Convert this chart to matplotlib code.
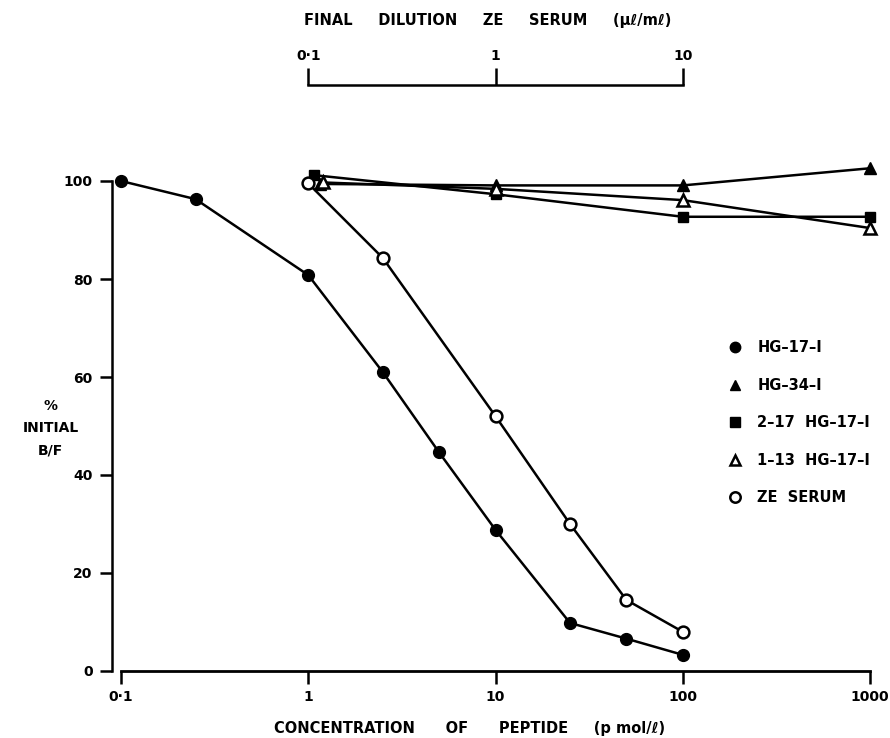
import matplotlib
matplotlib.use("Agg")
import matplotlib.pyplot as plt
from matplotlib.ticker import FixedLocator, FixedFormatter, NullLocator

plt.rcParams['font.family'] = ['DejaVu Sans']
plt.rcParams['font.weight'] = 'bold'
plt.rcParams['axes.labelweight'] = 'bold'

# peptide concentration (pmol/l) and % initial B/F
hg17_x = [0.1, 0.25, 1, 2.5, 5, 10, 25, 50, 100]
hg17_y = [100, 96.3, 80.8, 61.0, 44.6, 28.8, 9.8, 6.6, 3.3]

hg34_x = [1.15, 10, 100, 1000]
hg34_y = [99.4, 99.1, 99.1, 102.6]

p217_x = [1.07, 10, 100, 1000]
p217_y = [101.2, 97.3, 92.7, 92.7]

p113_x = [1.2, 10, 100, 1000]
p113_y = [99.7, 98.4, 96.1, 90.4]

ze_x = [1, 2.5, 10, 25, 50, 100]
ze_y = [99.5, 84.3, 52.0, 30.0, 14.5, 8.0]

labels = ["HG–17–I", "HG–34–I", "2–17  HG–17–I", "1–13  HG–17–I", "ZE  SERUM"]

bottom_ticks = [0.1, 1, 10, 100, 1000]
bottom_labels = ["0·1", "1", "10", "100", "1000"]
top_ticks = [0.1, 1, 10]
top_labels = ["0·1", "1", "10"]
y_ticks = [0, 20, 40, 60, 80, 100]

fig = plt.figure(figsize=(8.9, 7.38), dpi=100)
ax = fig.add_axes([112/890, 67/738, 770/890, 539/738])

lw = 1.8
ms = 8.5
l1, = ax.plot(hg17_x, hg17_y, "k-", marker="o", ms=ms, lw=lw, clip_on=False)
l2, = ax.plot(hg34_x, hg34_y, "k-", marker="^", ms=ms, lw=lw, clip_on=False)
l3, = ax.plot(p217_x, p217_y, "k-", marker="s", ms=ms - 1, lw=lw, clip_on=False)
l4, = ax.plot(p113_x, p113_y, "k-", marker="^", ms=ms, mfc="white", mew=1.8,
              lw=lw, clip_on=False)
l5, = ax.plot(ze_x, ze_y, "k-", marker="o", ms=ms, mfc="white", mew=1.8,
              lw=lw, clip_on=False)

ax.set_xscale("log")
ax.set_xlim(0.0895, 1159)
ax.set_ylim(0, 110)

for s in ["top", "right"]:
    ax.spines[s].set_visible(False)
ax.spines["left"].set_bounds(0, 100)
ax.spines["bottom"].set_bounds(0.1, 1000)
ax.spines["left"].set_linewidth(1.8)
ax.spines["bottom"].set_linewidth(2.0)

ax.xaxis.set_major_locator(FixedLocator(bottom_ticks))
ax.xaxis.set_major_formatter(FixedFormatter(bottom_labels))
ax.xaxis.set_minor_locator(NullLocator())
ax.set_yticks(y_ticks)
ax.tick_params(axis="both", direction="out", length=9, width=1.8,
               labelsize=10, pad=5)

fig.text(470/890, 1 - 728/738, "CONCENTRATION      OF      PEPTIDE     (p mol/ℓ)",
         ha="center", va="center", fontsize=10.5)
ax.text(-0.08, 0.451, "%\nINITIAL\nB/F", transform=ax.transAxes,
        ha="center", va="center", fontsize=10, linespacing=1.75)

# top scale: ZE serum dilution
sec = ax.secondary_xaxis(1.087, functions=(lambda x: x / 10, lambda x: x * 10))
sec.xaxis.set_major_locator(FixedLocator(top_ticks))
sec.xaxis.set_major_formatter(FixedFormatter(top_labels))
sec.xaxis.set_minor_locator(NullLocator())
sec.spines["top"].set_bounds(0.1, 10)
sec.spines["top"].set_linewidth(1.8)
sec.tick_params(direction="out", length=12, width=1.8, labelsize=10, pad=4)
fig.text(488/890, 1 - 20/738, "FINAL     DILUTION     ZE     SERUM     (µℓ/mℓ)",
         ha="center", va="center", fontsize=10.5)

leg = ax.legend([l1, l2, l3, l4, l5], labels, loc="upper left",
                bbox_to_anchor=(728/890, 1 - 340/738),
                bbox_transform=fig.transFigure, frameon=False, fontsize=10.5,
                handlelength=0.9, handletextpad=1.1, labelspacing=1.55,
                borderpad=0, borderaxespad=0)
for h in leg.legend_handles:
    h.set_linestyle("none")
    h.set_markersize(7.5)

fig.savefig("out.png", dpi=100)
